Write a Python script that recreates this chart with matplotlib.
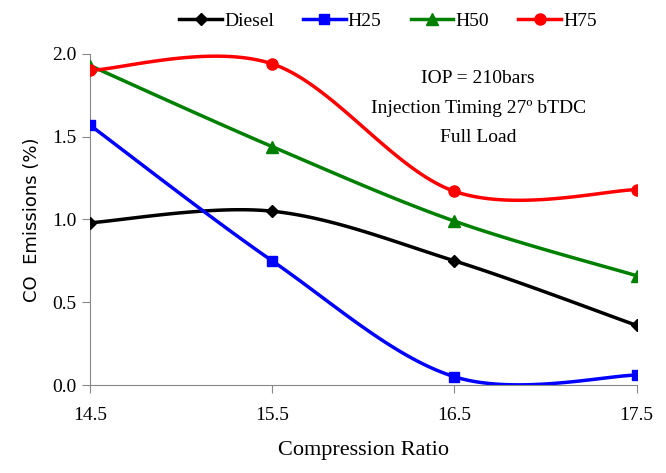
import numpy as np
import matplotlib
matplotlib.use("Agg")
import matplotlib.pyplot as plt

ratio = [14.5, 15.5, 16.5, 17.5]
diesel = [0.98, 1.05, 0.75, 0.36]
h25 = [1.57, 0.75, 0.05, 0.06]
h50 = [1.93, 1.44, 0.99, 0.66]
h75 = [1.90, 1.94, 1.17, 1.18]


def smooth(x, y, n=40):
    # excel style smoothed line: bezier with catmull-rom control points
    x = np.asarray(x, float)
    y = np.asarray(y, float)
    px = np.concatenate([[x[0]], x, [x[-1]]])
    py = np.concatenate([[y[0]], y, [y[-1]]])
    xs, ys = [], []
    t = np.linspace(0, 1, n)
    for i in range(1, len(px) - 2):
        p0 = np.array([px[i], py[i]])
        p3 = np.array([px[i + 1], py[i + 1]])
        c1 = p0 + (np.array([px[i + 1], py[i + 1]]) - np.array([px[i - 1], py[i - 1]])) / 6
        c2 = p3 - (np.array([px[i + 2], py[i + 2]]) - np.array([px[i], py[i]])) / 6
        b = ((1 - t) ** 3)[:, None] * p0 + (3 * (1 - t) ** 2 * t)[:, None] * c1 \
            + (3 * (1 - t) * t ** 2)[:, None] * c2 + (t ** 3)[:, None] * p3
        xs.extend(b[:, 0])
        ys.extend(b[:, 1])
    return xs, ys


plt.rcParams['font.family'] = ['Liberation Serif', 'DejaVu Serif']

fig = plt.figure(figsize=(6.66, 4.73), dpi=100)
ax = fig.add_axes([0.135, 0.186, 0.821, 0.700])

series = [
    ("Diesel", diesel, "black", "D", 6),
    ("H25", h25, "blue", "s", 7),
    ("H50", h50, "green", "^", 8),
    ("H75", h75, "red", "o", 8),
]
for name, vals, col, mk, ms in series:
    sx, sy = smooth(ratio, vals)
    ax.plot(sx, sy, color=col, lw=2.5, zorder=2)
    ax.plot(ratio, vals, color=col, lw=0, marker=mk, ms=ms, zorder=3)
    ax.plot([], [], color=col, lw=2.5, marker=mk, ms=ms, label=name)

ax.set_xlim(14.5, 17.5)
ax.set_ylim(0, 2.0)
ax.set_xticks(ratio)
ax.set_xticklabels(["14.5", "15.5", "16.5", "17.5"])
ax.set_yticks([0, 0.5, 1.0, 1.5, 2.0])
ax.set_yticklabels(["0.0", "0.5", "1.0", "1.5", "2.0"])
for s in ["top", "right"]:
    ax.spines[s].set_visible(False)
for s in ["left", "bottom"]:
    ax.spines[s].set_color("#888888")
ax.tick_params(colors="#888888", labelcolor="black", labelsize=14, length=6, direction="out")
ax.tick_params(axis="x", pad=10)

ax.set_xlabel("Compression Ratio", fontsize=16, labelpad=12)
ax.set_ylabel("CO  Emissions (%)", fontsize=13, family="DejaVu Sans", labelpad=8)

ax.text(0.71, 0.95, "IOP = 210bars\nInjection Timing 27º bTDC\nFull Load",
        transform=ax.transAxes, ha="center", va="top", fontsize=14, linespacing=1.95)

ax.legend(loc="lower center", bbox_to_anchor=(0.545, 1.05), ncol=4, frameon=False,
          fontsize=14, handlelength=2.2, handletextpad=0.1, columnspacing=1.5,
          borderaxespad=0)

fig.savefig("out.png", dpi=100)
